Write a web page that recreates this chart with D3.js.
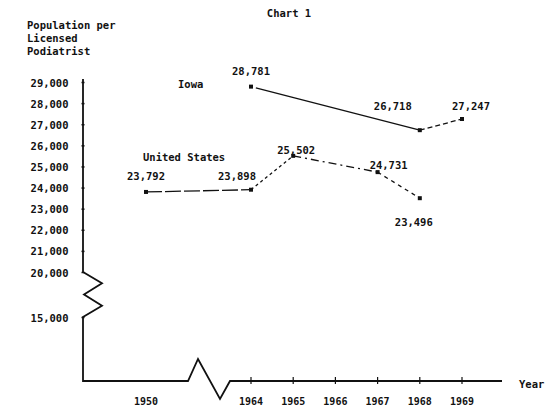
<!DOCTYPE html>
<html>
<head>
<meta charset="utf-8">
<script src="https://cdn.jsdelivr.net/npm/d3@7"></script>
<style>
  body { margin: 0; background: #fff; }
  svg text {
    font-family: "DejaVu Sans Mono", "Liberation Mono", monospace;
    font-weight: bold;
    font-size: 10.5px;
    fill: #111;
    dominant-baseline: central;
  }
  svg text.xlab { font-size: 10px; }
</style>
</head>
<body>
<svg id="chart" width="548" height="409"></svg>
<script>
// ---- data ----
const xYears = [1950, 1964, 1965, 1966, 1967, 1968, 1969];
const yTickValues = [15000, 20000, 21000, 22000, 23000, 24000, 25000, 26000, 27000, 28000, 29000];

const iowaYears = [1964, 1968, 1969];
const iowaValues = [28781, 26718, 27247];
const iowaLabels = ["28,781", "26,718", "27,247"];

const usYears = [1950, 1964, 1965, 1967, 1968];
const usValues = [23792, 23898, 25502, 24731, 23496];
const usLabels = ["23,792", "23,898", "25,502", "24,731", "23,496"];

// ---- layout ----
const svg = d3.select("#chart");
const axisX = 83;        // vertical axis position
const baseY = 381;       // horizontal axis position
const axisRight = 502;

// broken scales: 1950 sits left of the break, 1964-1969 evenly spaced
const x = d3.scaleLinear().domain([1950, 1964, 1969]).range([146, 251, 462]);
// value axis broken between 15,000 and 20,000
const y = d3.scaleLinear().domain([15000, 20000, 29000]).range([317, 272, 82]);

const fmt = d3.format(",");

// segment dash patterns
const iowaDash = ["2,3,40,0,400,0", "5,3"];
const usDash = ["16,3", "3,3", "8,4,2,4", "4,4"];

// label offsets from each point
const iowaLabelOffsets = [[0, -16], [-27, -24], [9, -13]];
const usLabelOffsets = [[0, -16], [-14, -14], [3, -6], [11, -7], [-6, 24]];

// ---- title ----
svg.append("text").attr("x", 289).attr("y", 13).attr("text-anchor", "middle").text("Chart 1");

// ---- y-axis title ----
["Population per", "Licensed", "Podiatrist"].forEach((t, i) => {
  svg.append("text").attr("x", 27).attr("y", 25 + i * 13).text(t);
});

// ---- axes line with zigzag breaks ----
const zig = 19;
const axisPath = d3.path();
axisPath.moveTo(axisX, y(29000) - 3);
axisPath.lineTo(axisX, y(20000));
const y20 = y(20000), y15 = y(15000), seg = (y15 - y20) / 4;
axisPath.lineTo(axisX + zig, y20 + seg);
axisPath.lineTo(axisX + 1, y20 + 2 * seg);
axisPath.lineTo(axisX + zig, y20 + 3 * seg);
axisPath.lineTo(axisX, y15);
axisPath.lineTo(axisX, baseY);
// x axis break between 1950 and 1964
axisPath.lineTo(188, baseY);
axisPath.lineTo(198, baseY - 22);
axisPath.lineTo(220, baseY + 18);
axisPath.lineTo(230, baseY);
axisPath.lineTo(axisRight, baseY);

svg.append("path").attr("d", axisPath.toString())
  .attr("fill", "none").attr("stroke", "#111").attr("stroke-width", 1.8)
  .attr("stroke-linejoin", "miter");

// y ticks and labels through a D3 axis
const yAxis = d3.axisLeft(y).tickValues(yTickValues).tickFormat(fmt).tickSize(3).tickPadding(13);
const gy = svg.append("g").attr("transform", `translate(${axisX + 1.5},0)`).call(yAxis);
gy.select(".domain").remove();
gy.selectAll(".tick line").attr("stroke", "#111").attr("stroke-width", 1.5);
gy.selectAll(".tick text").attr("dy", null).attr("font-family", null).attr("font-size", null);

// x ticks
svg.append("g").selectAll("line").data(xYears.slice(1)).join("line")
  .attr("x1", d => x(d)).attr("x2", d => x(d))
  .attr("y1", baseY - 4).attr("y2", baseY + 3)
  .attr("stroke", "#111").attr("stroke-width", 1.2);

// x labels
svg.append("g").selectAll("text").data(xYears).join("text")
  .attr("class", "xlab")
  .attr("x", d => x(d)).attr("y", 401).attr("text-anchor", "middle").text(d => d);

svg.append("text").attr("x", 519).attr("y", 384).text("Year");

// ---- series ----
function drawSeries(years, values, labels, dashes, offsets) {
  const pts = years.map((yr, i) => [x(yr), y(values[i])]);
  const g = svg.append("g");
  for (let i = 0; i < pts.length - 1; i++) {
    g.append("path")
      .attr("d", d3.line()([pts[i], pts[i + 1]]))
      .attr("fill", "none").attr("stroke", "#111").attr("stroke-width", 1.3)
      .attr("stroke-dasharray", dashes[i]);
  }
  g.selectAll("rect").data(pts).join("rect")
    .attr("x", d => d[0] - 2).attr("y", d => d[1] - 2)
    .attr("width", 4).attr("height", 4).attr("fill", "#111");
  g.selectAll("text").data(pts).join("text")
    .attr("x", (d, i) => d[0] + offsets[i][0])
    .attr("y", (d, i) => d[1] + offsets[i][1])
    .attr("text-anchor", "middle")
    .text((d, i) => labels[i]);
}

drawSeries(iowaYears, iowaValues, iowaLabels, iowaDash, iowaLabelOffsets);
drawSeries(usYears, usValues, usLabels, usDash, usLabelOffsets);

// series names
svg.append("text").attr("x", 178).attr("y", 84).text("Iowa");
svg.append("text").attr("x", 143).attr("y", 157).text("United States");
</script>
</body>
</html>
